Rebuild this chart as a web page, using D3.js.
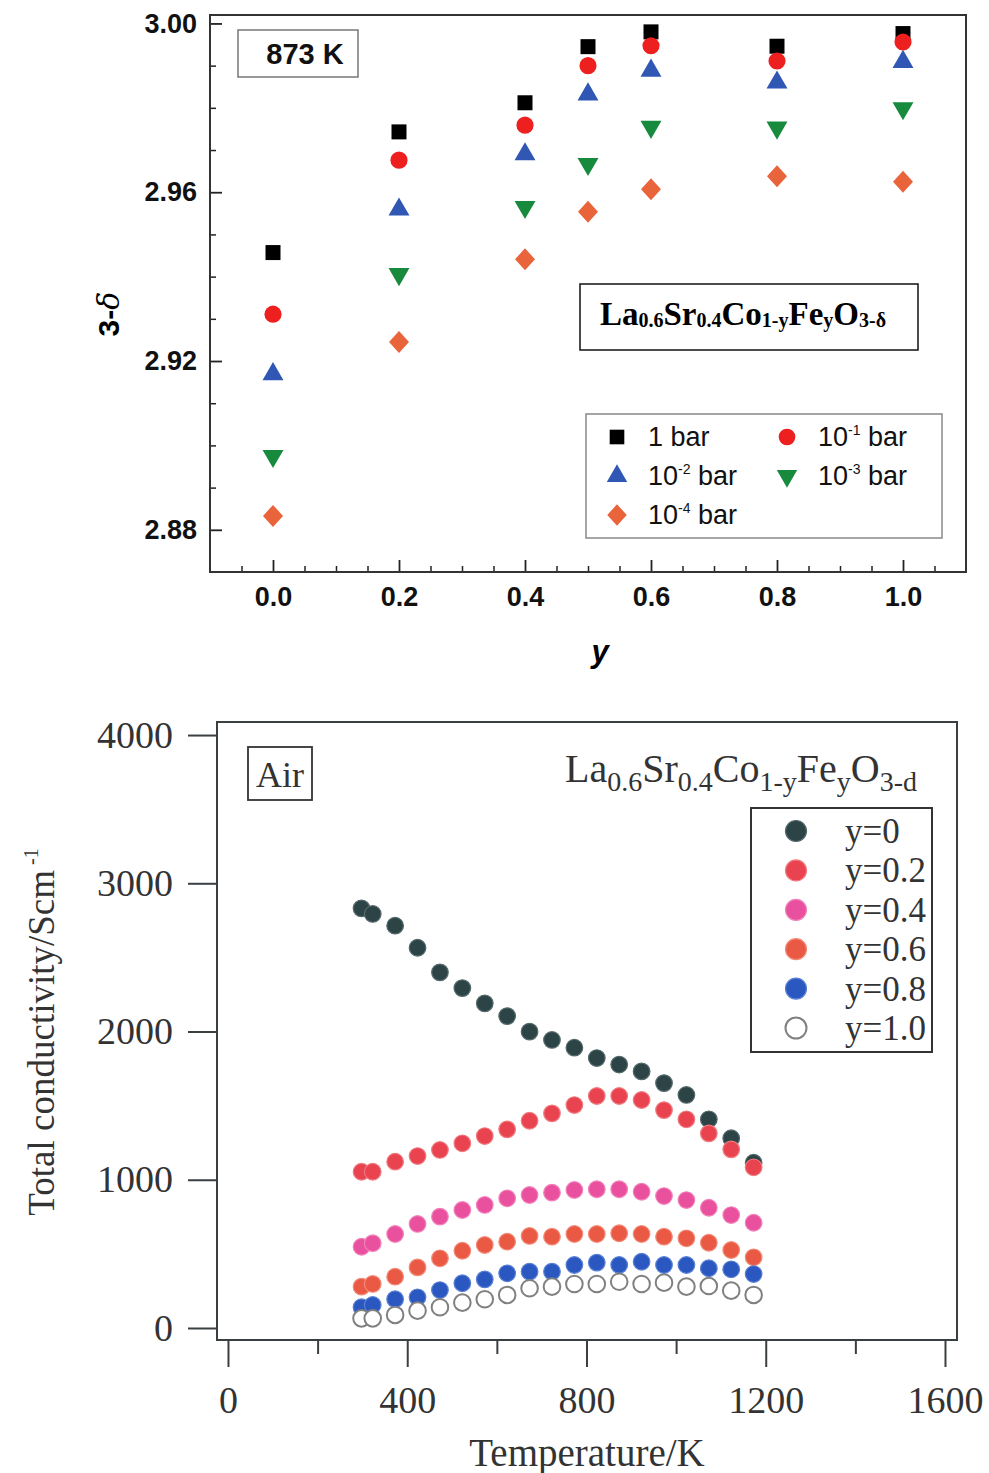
<!DOCTYPE html>
<html><head><meta charset="utf-8">
<script src="https://cdn.jsdelivr.net/npm/d3@7/dist/d3.min.js"></script>
<style>body{margin:0;background:#fff}svg{display:block}</style>
</head><body>
<svg id="chart" width="989" height="1473"></svg>
<script>
// ---------- Top chart data (873 K, 3-delta vs y) ----------
const yComp = [0.0, 0.2, 0.4, 0.5, 0.6, 0.8, 1.0];
const d_1bar  = [2.9457, 2.9743, 2.9812, 2.9945, 2.9980, 2.9946, 2.9976];
const d_1em1  = [2.9311, 2.9676, 2.9759, 2.9900, 2.9947, 2.9911, 2.9956];
const d_1em2  = [2.9169, 2.9559, 2.9690, 2.9832, 2.9888, 2.9860, 2.9909];
const d_1em3  = [2.8975, 2.9406, 2.9565, 2.9667, 2.9755, 2.9753, 2.9799];
const d_1em4  = [2.8833, 2.9245, 2.9441, 2.9554, 2.9607, 2.9638, 2.9625];
const topYTicks = [2.88, 2.92, 2.96, 3.00];
const topXTicks = [0.0, 0.2, 0.4, 0.6, 0.8, 1.0];

// ---------- Bottom chart data (conductivity vs T, air) ----------
const temps = [298, 323, 373, 423, 473, 523, 573, 623, 673, 723, 773, 823, 873, 923, 973, 1023, 1073, 1123, 1173];
const s_y00 = [2831, 2793, 2714, 2565, 2399, 2293, 2190, 2104, 1999, 1943, 1891, 1821, 1777, 1731, 1652, 1572, 1408, 1280, 1115];
const s_y02 = [1054, 1054, 1122, 1160, 1201, 1246, 1295, 1340, 1398, 1448, 1504, 1565, 1565, 1538, 1470, 1408, 1313, 1205, 1084];
const s_y04 = [548, 572, 634, 702, 751, 796, 830, 875, 897, 913, 931, 936, 936, 919, 890, 863, 811, 762, 710];
const s_y06 = [279, 297, 346, 409, 470, 521, 560, 582, 621, 616, 634, 634, 639, 634, 616, 605, 575, 526, 477];
const s_y08 = [140, 155, 194, 207, 256, 302, 328, 369, 380, 380, 425, 441, 425, 447, 425, 425, 403, 396, 364];
const s_y10 = [65, 65, 88, 117, 140, 171, 194, 223, 268, 279, 297, 297, 312, 297, 306, 279, 283, 252, 223];
const botYTicks = [0, 1000, 2000, 3000, 4000];
const botXTicks = [0, 400, 800, 1200, 1600];
const botXMinor = [200, 600, 1000, 1400];

const svg = d3.select("#chart");

// ================= TOP CHART =================
(function(){
  const sans = "'Liberation Sans', Arial, sans-serif";
  const x = d3.scaleLinear().domain([-0.1, 1.1]).range([210, 966]);
  const y = d3.scaleLinear().domain([2.870, 3.002]).range([572, 15]);
  const g = svg.append("g");

  // minor ticks
  const xMinor = d3.range(-0.05, 1.1, 0.05).map(v => +v.toFixed(2)).filter(v => Math.abs(v*5 - Math.round(v*5)) > 1e-6);
  g.append("g").attr("transform","translate(0,572)")
    .call(d3.axisBottom(x).tickValues(xMinor).tickSize(-6).tickFormat(""))
    .call(a => a.select(".domain").remove())
    .call(a => a.selectAll("line").attr("stroke","#222").attr("stroke-width",1.5));
  const yMinor = d3.range(2.88, 3.0, 0.01).map(v => +v.toFixed(2)).filter(v => !topYTicks.some(t => Math.abs(t-v)<1e-6));
  g.append("g").attr("transform","translate(210,0)")
    .call(d3.axisLeft(y).tickValues(yMinor).tickSize(-6).tickFormat(""))
    .call(a => a.select(".domain").remove())
    .call(a => a.selectAll("line").attr("stroke","#222").attr("stroke-width",1.5));

  // major axes
  g.append("g").attr("transform","translate(0,572)")
    .call(d3.axisBottom(x).tickValues(topXTicks).tickSize(-12).tickPadding(15).tickFormat(d3.format(".1f")))
    .call(a => a.select(".domain").remove())
    .call(a => a.selectAll("line").attr("stroke","#222").attr("stroke-width",1.8))
    .call(a => a.selectAll("text").attr("font-family",sans).attr("font-weight","bold").attr("font-size",27).attr("fill","#111"));
  g.append("g").attr("transform","translate(210,0)")
    .call(d3.axisLeft(y).tickValues(topYTicks).tickSize(-12).tickPadding(13).tickFormat(d3.format(".2f")))
    .call(a => a.select(".domain").remove())
    .call(a => a.selectAll("line").attr("stroke","#222").attr("stroke-width",1.8))
    .call(a => a.selectAll("text").attr("font-family",sans).attr("font-weight","bold").attr("font-size",27).attr("fill","#111"));

  // frame
  g.append("rect").attr("x",210).attr("y",15).attr("width",756).attr("height",557)
    .attr("fill","none").attr("stroke","#333").attr("stroke-width",2);

  // axis titles
  g.append("text").attr("x",600).attr("y",662).attr("text-anchor","middle")
    .attr("font-family",sans).attr("font-weight","bold").attr("font-style","italic").attr("font-size",31).text("y");
  const yl = g.append("text").attr("transform","translate(119,314) rotate(-90)").attr("text-anchor","middle")
    .attr("font-family",sans).attr("font-weight","bold").attr("font-size",30);
  yl.append("tspan").text("3-");
  yl.append("tspan").attr("font-style","italic").attr("font-family","'DejaVu Serif', serif").attr("font-weight","normal").text("δ");

  // series
  const series = [
    {vals:d_1bar, color:"#000000", sym:d3.symbolSquare, size:225, rot:0, sx:1, sy:1},
    {vals:d_1em1, color:"#ee1f1f", sym:d3.symbolCircle, size:230, rot:0, sx:1, sy:1},
    {vals:d_1em2, color:"#2f57b3", sym:d3.symbolTriangle, size:190, rot:0, sx:1, sy:1},
    {vals:d_1em3, color:"#188a3e", sym:d3.symbolTriangle, size:190, rot:180, sx:1, sy:1},
    {vals:d_1em4, color:"#e9633b", sym:d3.symbolSquare, size:200, rot:45, sx:1, sy:1.1}
  ];
  series.forEach(s => {
    const path = d3.symbol().type(s.sym).size(s.size)();
    g.append("g").selectAll("path").data(s.vals).join("path")
      .attr("d", path)
      .attr("transform",(d,i)=>`translate(${x(yComp[i])},${y(d)}) scale(${s.sx},${s.sy}) rotate(${s.rot})`)
      .attr("fill", s.color);
  });

  // 873 K box
  g.append("rect").attr("x",238).attr("y",30).attr("width",120).attr("height",47)
    .attr("fill","#fff").attr("stroke","#777").attr("stroke-width",1.5);
  g.append("text").attr("x",305).attr("y",64).attr("text-anchor","middle")
    .attr("font-family",sans).attr("font-weight","bold").attr("font-size",29).attr("fill","#111").text("873 K");

  // formula box
  g.append("rect").attr("x",580).attr("y",284).attr("width",338).attr("height",66)
    .attr("fill","#fff").attr("stroke","#111").attr("stroke-width",1.5);
  const ft = g.append("text").attr("x",600).attr("y",325)
    .attr("font-family","'Liberation Serif', 'Times New Roman', serif").attr("font-weight","bold").attr("font-size",33);
  [["La",0],["0.6",1],["Sr",0],["0.4",1],["Co",0],["1-y",1],["Fe",0],["y",1],["O",0],["3-δ",1]].forEach(([t,sub],i,arr)=>{
    const prevSub = i>0 ? arr[i-1][1] : 0;
    const dy = sub && !prevSub ? 2 : (!sub && prevSub ? -2 : 0);
    ft.append("tspan").attr("dy",dy).attr("font-size", sub?20:33).text(t);
  });

  // legend
  g.append("rect").attr("x",586).attr("y",414).attr("width",356).attr("height",124)
    .attr("fill","#fff").attr("stroke","#888").attr("stroke-width",1.5);
  const legItems = [
    {si:0, lab:["1 bar", null], lx:617, ly:437},
    {si:1, lab:["10","-1"], lx:787, ly:437},
    {si:2, lab:["10","-2"], lx:617, ly:476},
    {si:3, lab:["10","-3"], lx:787, ly:476},
    {si:4, lab:["10","-4"], lx:617, ly:515}
  ];
  legItems.forEach(it => {
    const s = series[it.si];
    g.append("path").attr("d", d3.symbol().type(s.sym).size(s.size*0.95)())
      .attr("transform",`translate(${it.lx},${it.ly}) scale(${s.sx},${s.sy}) rotate(${s.rot})`)
      .attr("fill", s.color);
    const t = g.append("text").attr("x", it.lx+31).attr("y", it.ly+9)
      .attr("font-family",sans).attr("font-size",27).attr("fill","#111");
    if (it.lab[1] === null) { t.text(it.lab[0]); }
    else {
      t.append("tspan").text(it.lab[0]);
      t.append("tspan").attr("font-size",14).attr("dy",-11).text(it.lab[1]);
      t.append("tspan").attr("dy",11).text(" bar");
    }
  });
})();

// ================= BOTTOM CHART =================
(function(){
  const serif = "'Liberation Serif', 'Times New Roman', serif";
  const x = d3.scaleLinear().domain([-24.5, 1626.8]).range([217, 957]);
  const y = d3.scaleLinear().domain([-81, 4088]).range([1340, 722]);
  const g = svg.append("g");
  const axisCol = "#3a3f42";

  // x axis ticks (outside, downward)
  g.append("g").attr("transform","translate(0,1340)")
    .call(d3.axisBottom(x).tickValues(botXMinor).tickSize(14).tickFormat(""))
    .call(a => a.select(".domain").remove())
    .call(a => a.selectAll("line").attr("stroke",axisCol).attr("stroke-width",2));
  g.append("g").attr("transform","translate(0,1340)")
    .call(d3.axisBottom(x).tickValues(botXTicks).tickSize(27).tickPadding(19).tickFormat(d3.format("d")))
    .call(a => a.select(".domain").remove())
    .call(a => a.selectAll("line").attr("stroke",axisCol).attr("stroke-width",2))
    .call(a => a.selectAll("text").attr("font-family",serif).attr("font-size",38).attr("fill","#333"));
  // y axis
  g.append("g").attr("transform","translate(217,0)")
    .call(d3.axisLeft(y).tickValues(botYTicks).tickSize(29).tickPadding(15).tickFormat(d3.format("d")))
    .call(a => a.select(".domain").remove())
    .call(a => a.selectAll("line").attr("stroke",axisCol).attr("stroke-width",2))
    .call(a => a.selectAll("text").attr("font-family",serif).attr("font-size",38).attr("fill","#333"));

  // frame
  g.append("rect").attr("x",217).attr("y",722).attr("width",740).attr("height",618)
    .attr("fill","none").attr("stroke",axisCol).attr("stroke-width",2);

  // axis titles
  g.append("text").attr("x",587).attr("y",1466).attr("text-anchor","middle")
    .attr("font-family",serif).attr("font-size",39).attr("fill","#333").text("Temperature/K");
  const ylab = g.append("text").attr("transform","translate(54,1032) rotate(-90)").attr("text-anchor","middle")
    .attr("font-family",serif).attr("font-size",37).attr("fill","#333");
  ylab.append("tspan").text("Total conductivity/Scm");
  ylab.append("tspan").attr("font-size",20).attr("dy",-16).text(" -1");

  // series
  const series = [
    {vals:s_y00, fill:"#2d4447", stroke:"#55696b", label:"y=0"},
    {vals:s_y02, fill:"#e8434f", stroke:"#f07a80", label:"y=0.2"},
    {vals:s_y04, fill:"#e9509d", stroke:"#f282bb", label:"y=0.4"},
    {vals:s_y06, fill:"#ea5943", stroke:"#f28a78", label:"y=0.6"},
    {vals:s_y08, fill:"#2a58c0", stroke:"#5a80d4", label:"y=0.8"},
    {vals:s_y10, fill:"#ffffff", stroke:"#808080", label:"y=1.0"}
  ];
  series.forEach(s => {
    g.append("g").selectAll("circle").data(s.vals).join("circle")
      .attr("cx",(d,i)=>x(temps[i])).attr("cy",d=>y(d)).attr("r",8.3)
      .attr("fill",s.fill).attr("stroke",s.stroke).attr("stroke-width",s.fill==="#ffffff"?2:1.2);
  });

  // Air box
  g.append("rect").attr("x",248).attr("y",747).attr("width",64).attr("height",53)
    .attr("fill","#fff").attr("stroke","#333").attr("stroke-width",1.8);
  g.append("text").attr("x",280).attr("y",787).attr("text-anchor","middle")
    .attr("font-family",serif).attr("font-size",36).attr("fill","#333").text("Air");

  // formula
  const ft = g.append("text").attr("x",565).attr("y",782)
    .attr("font-family",serif).attr("font-size",40).attr("fill","#333");
  [["La",0],["0.6",1],["Sr",0],["0.4",1],["Co",0],["1-y",1],["Fe",0],["y",1],["O",0],["3-d",1]].forEach(([t,sub],i,arr)=>{
    const prevSub = i>0 ? arr[i-1][1] : 0;
    const dy = sub && !prevSub ? 9 : (!sub && prevSub ? -9 : 0);
    ft.append("tspan").attr("dy",dy).attr("font-size", sub?28:40).text(t);
  });

  // legend
  g.append("rect").attr("x",751).attr("y",808).attr("width",181).attr("height",244)
    .attr("fill","#fff").attr("stroke","#333").attr("stroke-width",2);
  series.forEach((s,i) => {
    const cy = 831 + i*39.4;
    g.append("circle").attr("cx",796).attr("cy",cy).attr("r",10.5)
      .attr("fill",s.fill).attr("stroke",s.stroke).attr("stroke-width",s.fill==="#ffffff"?2:1.2);
    g.append("text").attr("x",845).attr("y",cy+12)
      .attr("font-family",serif).attr("font-size",35).attr("fill","#333").text(s.label);
  });
})();
</script>
</body></html>
